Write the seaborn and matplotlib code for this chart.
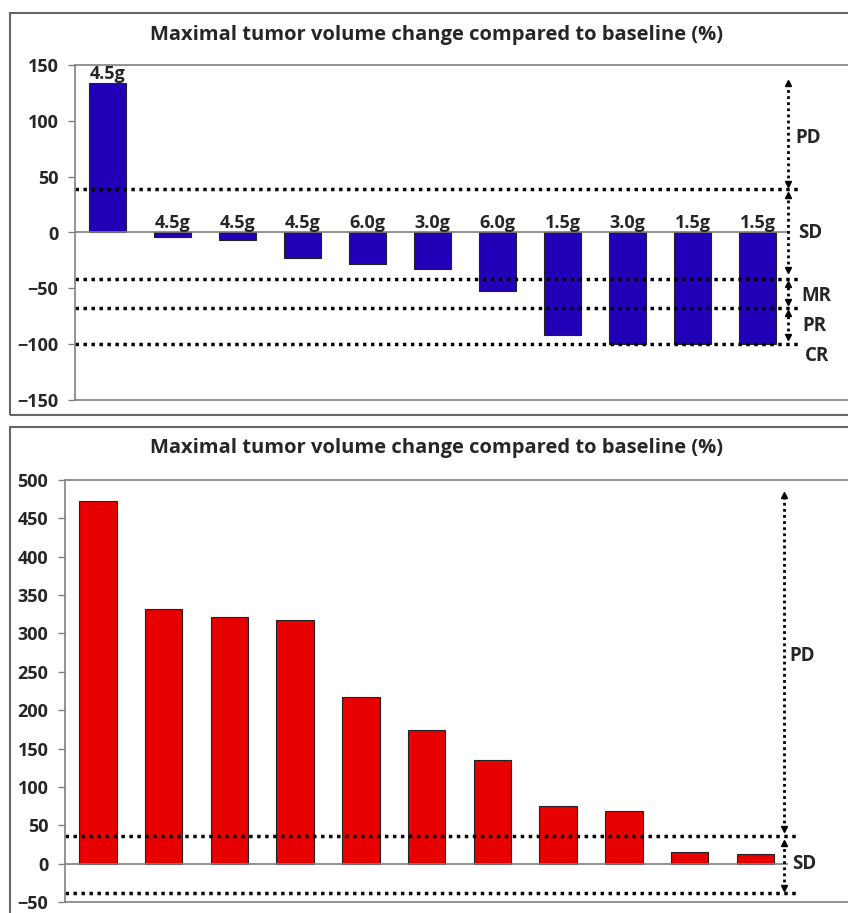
import numpy as np
import pandas as pd
import matplotlib
matplotlib.use("Agg")
import matplotlib.pyplot as plt
from matplotlib.patches import Rectangle
import seaborn as sns

# Data
patients = [f"P{i}" for i in range(1, 12)]
top_values = [134, -4, -7, -23, -28, -33, -52, -92, -100, -100, -100]
top_doses = ["4.5g", "4.5g", "4.5g", "4.5g", "6.0g", "3.0g", "6.0g", "1.5g", "3.0g", "1.5g", "1.5g"]
top_cutoffs = [39, -42, -68, -100]
bottom_values = [473, 332, 321, 318, 217, 174, 135, 75, 68, 15, 13]
bottom_cutoffs = [36, -38]
title = "Maximal tumor volume change compared to baseline (%)"

W, H = 848, 913
sns.set_style("white")
plt.rcParams['font.family'] = ['Open Sans', 'DejaVu Sans']
plt.rcParams['font.weight'] = 'bold'

fig = plt.figure(figsize=(W / 100, H / 100), dpi=100)


def px_axes(left, top, right, bottom):
    return fig.add_axes([left / W, 1 - bottom / H, (right - left) / W, (bottom - top) / H])


def frame(top, bottom):
    fig.add_artist(Rectangle((10 / W, 1 - bottom / H), (W + 5 - 10) / W, (bottom - top) / H,
                             transform=fig.transFigure, fill=False, edgecolor='#666666', lw=1.5))


def style_axes(ax, xright):
    ax.set_xlim(-0.5, xright)
    ax.set_xlabel('')
    ax.set_ylabel('')
    ax.set_xticks([])
    ax.spines['right'].set_visible(False)
    for s in ['left', 'top', 'bottom']:
        ax.spines[s].set_color('#808080')
        ax.spines[s].set_linewidth(1.2)
    ax.tick_params(axis='y', direction='out', length=5, width=1, color='#808080', pad=7,
                   labelsize=13, left=True)
    for lab in ax.get_yticklabels():
        lab.set_fontweight('bold')
    ax.hlines(0, -0.5, 10.5, color='#808080', lw=1.2)


def arrow(ax, x, y0, y1):
    ax.vlines(x, y0, y1, color='black', lw=2, linestyles=(0, (1, 1.2)))
    ax.plot([x], [y1], marker='^', color='black', ms=5)
    ax.plot([x], [y0], marker='v', color='black', ms=5)


# Top panel
frame(13, 415)
fig.text(436 / W, 1 - 35 / H, title, ha='center', va='center', fontsize=14.5, fontweight='bold')
ax1 = px_axes(75, 65, W + 2, 400)
df1 = pd.DataFrame({'patient': patients, 'change': top_values})
sns.barplot(data=df1, x='patient', y='change', order=patients, color='#2200B8', saturation=1,
            width=0.57, edgecolor='#222222', linewidth=0.8, ax=ax1)
ax1.set_ylim(-150, 150)
ax1.set_yticks([150, 100, 50, 0, -50, -100, -150])
style_axes(ax1, -0.5 + (W + 2 - 75) / 65)
for c in top_cutoffs:
    ax1.hlines(c, -0.5, 10.65, color='black', lw=2.5, linestyles=(0, (1, 1.3)))
for i, (v, d) in enumerate(zip(top_values, top_doses)):
    ax1.annotate(d, (i, max(v, 0)), xytext=(0, 0), textcoords='offset points',
                 ha='center', va='bottom', fontsize=13, fontweight='bold')
ax_x = 10.47
arrow(ax1, ax_x, 43, 134)
arrow(ax1, ax_x, -34, 34)
arrow(ax1, ax_x, -62, -46)
arrow(ax1, ax_x, -94, -72)
for lab, y, dx in [('PD', 85, 0.11), ('SD', 0, 0.15), ('MR', -57, 0.2), ('PR', -84, 0.22), ('CR', -111, 0.26)]:
    ax1.text(ax_x + dx, y, lab, ha='left', va='center', fontsize=13.5, fontweight='bold')

# Bottom panel
frame(427, 920)
fig.text(436 / W, 1 - 448 / H, title, ha='center', va='center', fontsize=14.5, fontweight='bold')
ax2 = px_axes(65, 480, W + 2, 902)
df2 = pd.DataFrame({'patient': patients, 'change': bottom_values})
sns.barplot(data=df2, x='patient', y='change', order=patients, color='#E60000', saturation=1,
            width=0.57, edgecolor='#222222', linewidth=0.8, ax=ax2)
ax2.set_ylim(-50, 500)
ax2.set_yticks(np.arange(-50, 501, 50))
style_axes(ax2, -0.5 + (W + 2 - 65) / 65.75)
for c in bottom_cutoffs:
    ax2.hlines(c, -0.5, 10.65, color='black', lw=2.5, linestyles=(0, (1, 1.3)))
bx = 10.44
arrow(ax2, bx, 45, 481)
arrow(ax2, bx, -32, 27)
ax2.text(bx + 0.07, 270, 'PD', ha='left', va='center', fontsize=13.5, fontweight='bold')
ax2.text(bx + 0.12, 0, 'SD', ha='left', va='center', fontsize=13.5, fontweight='bold')

fig.savefig('out.png', dpi=100)
